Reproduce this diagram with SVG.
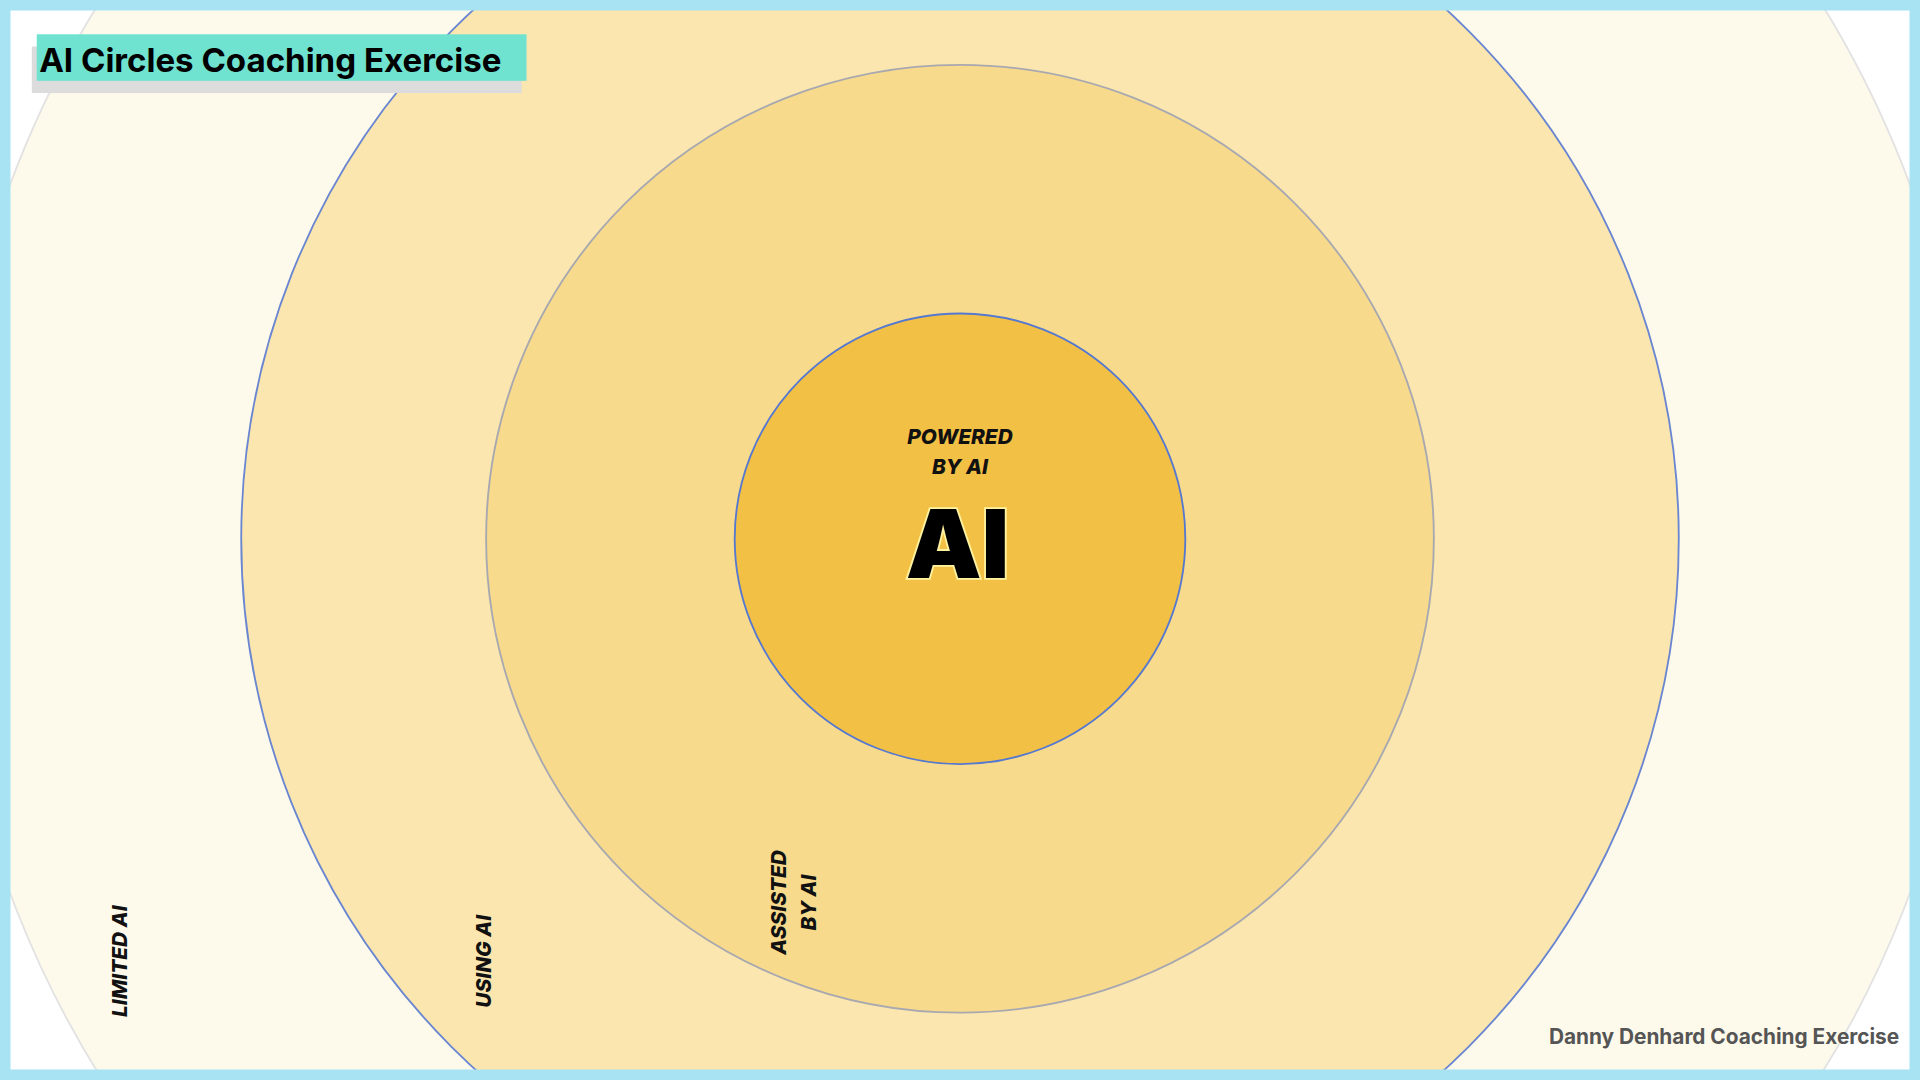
<svg xmlns="http://www.w3.org/2000/svg" width="1920" height="1080" viewBox="0 0 1920 1080">
<style>
.lbl{font-family:"Inter","Liberation Sans",sans-serif;font-weight:800;font-style:italic;font-size:17px;fill:#111}
</style>
<rect width="1920" height="1080" fill="#ffffff"/>
<g transform="scale(1.22449)">
<g id="ring-limited"><circle cx="784" cy="440" r="828" fill="#fdfaec" stroke="#e2e2e2" stroke-width="1.5"/></g>
<g id="ring-using"><circle cx="784" cy="440" r="587" fill="#fae6ae" stroke="#6a86d0" stroke-width="1.5"/></g>
<g id="ring-assisted"><circle cx="784" cy="440" r="387" fill="#f7da8c" stroke="#a8a8b0" stroke-width="1.5"/></g>
<g id="ring-powered"><circle cx="784" cy="440" r="184" fill="#f3c046" stroke="#5578d0" stroke-width="1.5"/></g>
<g id="labels">
<text class="lbl" transform="translate(104,785) rotate(-90)" text-anchor="middle">LIMITED AI</text>
<text class="lbl" transform="translate(401,785) rotate(-90)" text-anchor="middle">USING AI</text>
<text class="lbl" transform="translate(642,737) rotate(-90)" text-anchor="middle">ASSISTED</text>
<text class="lbl" transform="translate(666,737) rotate(-90)" text-anchor="middle">BY AI</text>
<text class="lbl" x="784" y="363" text-anchor="middle">POWERED</text>
<text class="lbl" x="784" y="387" text-anchor="middle">BY AI</text>
<text x="782" y="472" text-anchor="middle" font-family="Inter,'Liberation Sans',sans-serif" font-weight="900" font-size="78" fill="#000" stroke="#fff3a0" stroke-width="3" paint-order="stroke">AI</text>
</g>
<g id="title">
<rect x="26" y="38" width="400" height="38" fill="#dcdcdc"/>
<rect x="30" y="28" width="400" height="38" fill="#6fe2d0"/>
<text x="32" y="59" font-family="Inter,'Liberation Sans',sans-serif" font-weight="700" font-size="27" fill="#000">AI Circles Coaching Exercise</text>
</g>
<text x="1551" y="853" text-anchor="end" font-family="Inter,'Liberation Sans',sans-serif" font-weight="700" font-size="17" fill="#555">Danny Denhard Coaching Exercise</text>
</g>
<rect x="5" y="5" width="1910" height="1070" fill="none" stroke="#a8e3f3" stroke-width="11"/>
</svg>
